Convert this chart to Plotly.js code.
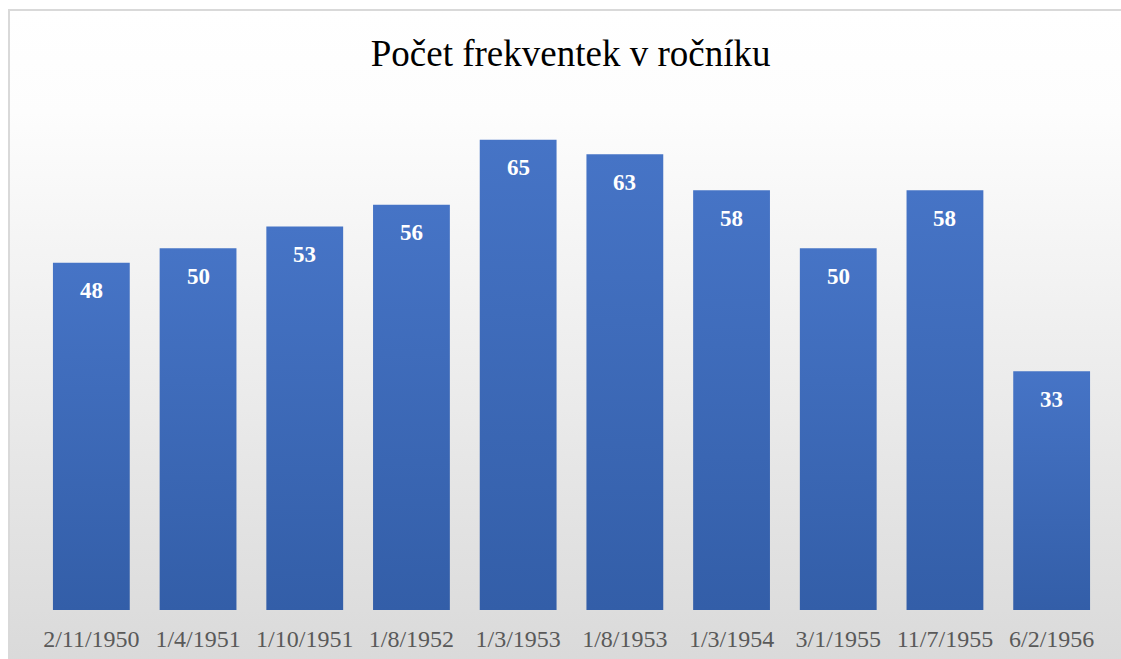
<!DOCTYPE html>
<html>
<head>
<meta charset="utf-8">
<script src="https://cdn.plot.ly/plotly-3.0.1.min.js"></script>
<style>
  html, body { margin: 0; padding: 0; background: #ffffff; overflow: hidden; }
  #frame {
    position: absolute; left: 8px; top: 9px; width: 1130px; height: 680px;
    border: 2px solid #d9d9d9; box-sizing: border-box;
    background: linear-gradient(to bottom, #ffffff 0%, #fdfdfd 15%, #d8d8d8 100%);
  }
  #chart { position: absolute; left: 0; top: 0; width: 1121px; height: 659px; }
</style>
</head>
<body>
<div id="frame"></div>
<div id="chart"></div>
<script>
const categories = ["2/11/1950", "1/4/1951", "1/10/1951", "1/8/1952", "1/3/1953", "1/8/1953", "1/3/1954", "3/1/1955", "11/7/1955", "6/2/1956"];
const values = [48, 50, 53, 56, 65, 63, 58, 50, 58, 33];
const chartTitle = "Počet frekventek v ročníku";

const serif = "Liberation Serif";

const trace = {
  type: "bar",
  x: categories,
  y: values,
  marker: { color: "#4068b8", line: { width: 0 } },
  hoverinfo: "skip"
};

const annotations = categories.map((c, i) => ({
  x: c, y: values[i], xref: "x", yref: "y",
  text: String(values[i]),
  showarrow: false, yanchor: "middle", yshift: -28,
  font: { family: serif, size: 23, color: "#ffffff", weight: "bold" }
}));

const layout = {
  width: 1121, height: 659,
  paper_bgcolor: "rgba(0,0,0,0)",
  plot_bgcolor: "rgba(0,0,0,0)",
  margin: { l: 38, r: 16, t: 110, b: 49 },
  bargap: 0.28,
  showlegend: false,
  title: {
    text: chartTitle,
    font: { family: serif, size: 37, color: "#000000" },
    x: 0.509, xanchor: "center",
    y: 1 - 53 / 659, yref: "container", yanchor: "middle"
  },
  xaxis: {
    type: "category",
    showgrid: false, zeroline: false, showline: false, ticks: "",
    tickfont: { family: serif, size: 24, color: "#595959" },
    ticklabelstandoff: 12
  },
  yaxis: {
    range: [0, 500 / 7.235],
    showgrid: false, zeroline: false, showline: false,
    showticklabels: false, ticks: ""
  },
  annotations: annotations
};

Plotly.newPlot("chart", [trace], layout, { staticPlot: true, displayModeBar: false }).then(gd => {
  const svg = gd.querySelector("svg.main-svg");
  const ns = "http://www.w3.org/2000/svg";
  let defs = svg.querySelector("defs");
  if (!defs) { defs = document.createElementNS(ns, "defs"); svg.insertBefore(defs, svg.firstChild); }
  const grad = document.createElementNS(ns, "linearGradient");
  grad.setAttribute("id", "barGrad");
  grad.setAttribute("x1", "0"); grad.setAttribute("y1", "0");
  grad.setAttribute("x2", "0"); grad.setAttribute("y2", "1");
  [["0%", "#4674c6"], ["100%", "#335ea8"]].forEach(([o, c]) => {
    const s = document.createElementNS(ns, "stop");
    s.setAttribute("offset", o); s.setAttribute("stop-color", c);
    grad.appendChild(s);
  });
  defs.appendChild(grad);
  gd.querySelectorAll(".barlayer .point path").forEach(p => {
    p.style.fill = "url(#barGrad)";
  });
});
</script>
</body>
</html>
